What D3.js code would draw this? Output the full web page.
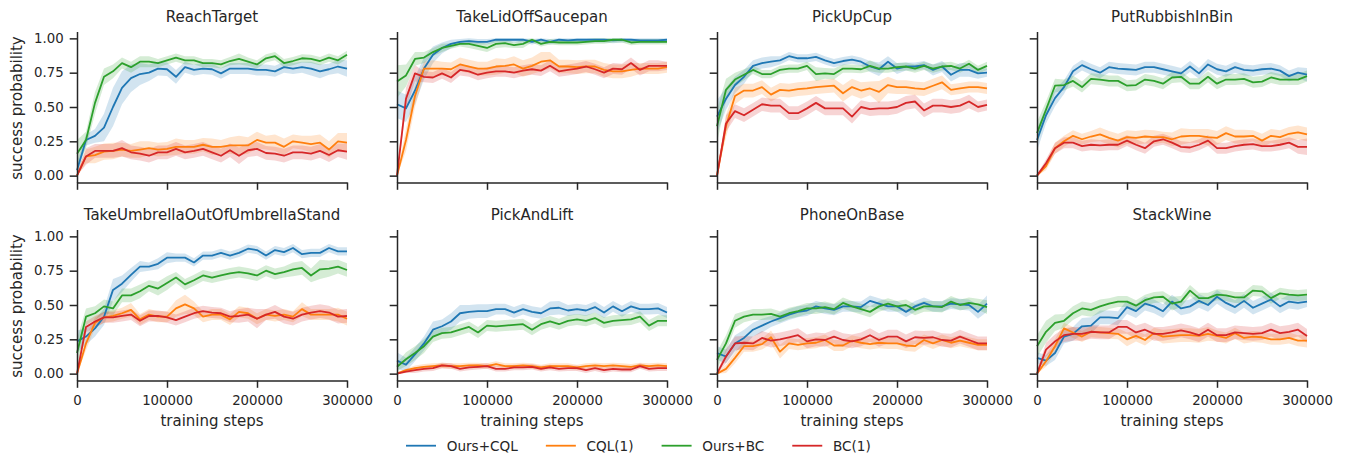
<!DOCTYPE html>
<html>
<head>
<meta charset="utf-8">
<script src="https://cdn.jsdelivr.net/npm/d3@7"></script>
<style>
	body { margin: 0; background: #fff; }
	text { font-family: "DejaVu Sans", sans-serif; }
</style>
</head>
<body>
<svg id="chart" width="1345" height="458"></svg>
<script>
// training step at which every evaluation was run
var steps = [0, 10000, 20000, 30000, 40000, 50000, 60000, 70000, 80000, 90000, 100000,
	110000, 120000, 130000, 140000, 150000, 160000, 170000, 180000, 190000, 200000,
	210000, 220000, 230000, 240000, 250000, 260000, 270000, 280000, 290000, 300000];

var methods = ["Ours+CQL", "CQL(1)", "Ours+BC", "BC(1)"];
var methodColors = ["#1f77b4", "#ff7f0e", "#2ca02c", "#d62728"];
var tasks = ["ReachTarget", "TakeLidOffSaucepan", "PickUpCup", "PutRubbishInBin",
	"TakeUmbrellaOutOfUmbrellaStand", "PickAndLift", "PhoneOnBase", "StackWine"];
var yTicks = [0, 0.25, 0.5, 0.75, 1];
var xTicks = [0, 100000, 200000, 300000];

// mean success rate, one row per method (same order as methods)
var reachTargetMean = [
	[0.04,0.26,0.29,0.35,0.50,0.64,0.71,0.74,0.75,0.78,0.775,0.72,0.79,0.77,0.78,0.775,0.745,0.78,0.78,0.78,0.77,0.77,0.76,0.79,0.78,0.79,0.78,0.76,0.775,0.795,0.78],
	[0,0.14,0.15,0.175,0.18,0.19,0.18,0.19,0.20,0.19,0.195,0.21,0.21,0.21,0.225,0.21,0.21,0.22,0.22,0.22,0.26,0.24,0.24,0.21,0.25,0.24,0.23,0.24,0.19,0.25,0.24],
	[0.16,0.26,0.53,0.72,0.76,0.82,0.79,0.83,0.83,0.82,0.84,0.86,0.84,0.84,0.82,0.82,0.81,0.835,0.85,0.83,0.81,0.855,0.87,0.82,0.835,0.855,0.85,0.835,0.86,0.84,0.88],
	[0,0.14,0.18,0.18,0.18,0.20,0.17,0.16,0.145,0.17,0.17,0.195,0.17,0.18,0.195,0.17,0.145,0.185,0.145,0.185,0.195,0.165,0.16,0.145,0.17,0.17,0.16,0.18,0.15,0.185,0.175]
];
var takeLidMean = [
	[0.52,0.49,0.62,0.78,0.88,0.93,0.96,0.975,0.98,0.975,0.975,0.99,0.99,0.99,0.99,0.975,0.99,0.975,0.99,0.985,0.99,0.99,0.99,0.99,0.985,0.99,0.99,0.985,0.985,0.985,0.99],
	[0,0.26,0.58,0.78,0.78,0.78,0.775,0.81,0.795,0.78,0.78,0.795,0.80,0.81,0.78,0.80,0.83,0.84,0.795,0.795,0.79,0.795,0.795,0.77,0.76,0.76,0.77,0.78,0.78,0.78,0.79],
	[0.685,0.73,0.85,0.86,0.90,0.93,0.945,0.96,0.96,0.945,0.93,0.96,0.965,0.95,0.96,0.99,0.96,0.975,0.97,0.97,0.97,0.975,0.98,0.98,0.99,0.99,0.97,0.975,0.975,0.975,0.975],
	[0,0.56,0.745,0.72,0.715,0.745,0.715,0.77,0.76,0.735,0.75,0.76,0.76,0.75,0.765,0.775,0.765,0.80,0.76,0.77,0.78,0.795,0.775,0.75,0.78,0.775,0.82,0.77,0.80,0.80,0.80]
];
var pickUpCupMean = [
	[0.43,0.56,0.66,0.72,0.80,0.82,0.83,0.84,0.87,0.855,0.855,0.865,0.84,0.82,0.835,0.845,0.83,0.795,0.775,0.83,0.78,0.795,0.795,0.805,0.77,0.795,0.735,0.77,0.77,0.745,0.75],
	[0,0.36,0.58,0.62,0.62,0.645,0.59,0.625,0.62,0.63,0.635,0.645,0.65,0.655,0.60,0.645,0.62,0.635,0.61,0.66,0.645,0.645,0.635,0.63,0.655,0.68,0.625,0.635,0.645,0.645,0.635],
	[0.36,0.625,0.70,0.735,0.77,0.74,0.74,0.77,0.78,0.78,0.80,0.74,0.745,0.74,0.78,0.78,0.775,0.80,0.78,0.78,0.79,0.795,0.78,0.80,0.78,0.795,0.80,0.78,0.815,0.77,0.80],
	[0,0.38,0.47,0.44,0.48,0.52,0.51,0.51,0.455,0.455,0.49,0.53,0.49,0.49,0.49,0.43,0.50,0.485,0.49,0.49,0.50,0.53,0.54,0.475,0.51,0.51,0.50,0.51,0.54,0.50,0.515]
];
var putRubbishMean = [
	[0.26,0.44,0.565,0.645,0.76,0.805,0.775,0.75,0.79,0.78,0.775,0.77,0.79,0.79,0.775,0.76,0.745,0.795,0.745,0.81,0.775,0.76,0.79,0.77,0.765,0.775,0.78,0.765,0.725,0.75,0.735],
	[0,0.07,0.20,0.25,0.29,0.265,0.285,0.30,0.275,0.255,0.28,0.275,0.285,0.28,0.28,0.265,0.285,0.29,0.29,0.28,0.275,0.31,0.285,0.285,0.29,0.255,0.29,0.28,0.305,0.315,0.30],
	[0.31,0.48,0.655,0.66,0.69,0.645,0.705,0.70,0.69,0.69,0.655,0.66,0.70,0.69,0.67,0.715,0.72,0.67,0.67,0.72,0.67,0.70,0.70,0.705,0.68,0.685,0.715,0.70,0.70,0.70,0.725],
	[0,0.09,0.20,0.24,0.24,0.215,0.225,0.22,0.225,0.225,0.255,0.225,0.20,0.25,0.265,0.24,0.21,0.205,0.225,0.255,0.20,0.20,0.215,0.225,0.23,0.215,0.215,0.225,0.24,0.21,0.21]
];
var takeUmbrellaMean = [
	[0.235,0.27,0.33,0.415,0.61,0.655,0.72,0.78,0.78,0.80,0.845,0.845,0.845,0.81,0.86,0.86,0.88,0.86,0.88,0.91,0.90,0.86,0.90,0.885,0.915,0.87,0.88,0.88,0.915,0.89,0.89],
	[0,0.22,0.37,0.41,0.42,0.44,0.465,0.395,0.43,0.415,0.415,0.475,0.505,0.475,0.415,0.43,0.43,0.395,0.45,0.44,0.40,0.43,0.42,0.43,0.415,0.47,0.43,0.43,0.43,0.43,0.40],
	[0.15,0.415,0.44,0.49,0.475,0.57,0.57,0.60,0.64,0.62,0.66,0.70,0.65,0.68,0.715,0.70,0.715,0.73,0.74,0.73,0.715,0.75,0.725,0.74,0.76,0.77,0.715,0.76,0.765,0.78,0.755],
	[0,0.34,0.38,0.41,0.41,0.42,0.43,0.385,0.42,0.42,0.41,0.39,0.415,0.44,0.455,0.445,0.44,0.415,0.42,0.43,0.40,0.43,0.45,0.415,0.40,0.43,0.445,0.455,0.445,0.415,0.42]
];
var pickAndLiftMean = [
	[0.095,0.065,0.14,0.22,0.32,0.345,0.38,0.44,0.45,0.455,0.455,0.47,0.47,0.445,0.47,0.45,0.44,0.475,0.48,0.46,0.47,0.46,0.485,0.445,0.49,0.455,0.49,0.47,0.47,0.475,0.445],
	[0,0.025,0.04,0.05,0.055,0.06,0.055,0.055,0.06,0.06,0.055,0.07,0.055,0.055,0.06,0.055,0.045,0.055,0.055,0.055,0.045,0.055,0.06,0.055,0.06,0.055,0.05,0.06,0.055,0.06,0.055],
	[0.05,0.105,0.15,0.20,0.27,0.295,0.30,0.32,0.34,0.30,0.35,0.345,0.35,0.355,0.36,0.32,0.36,0.38,0.36,0.385,0.395,0.385,0.405,0.37,0.385,0.39,0.395,0.415,0.35,0.385,0.385],
	[0,0.015,0.025,0.035,0.04,0.06,0.055,0.035,0.045,0.05,0.055,0.035,0.035,0.045,0.045,0.05,0.035,0.045,0.035,0.04,0.04,0.025,0.04,0.025,0.035,0.03,0.03,0.055,0.035,0.04,0.04]
];
var phoneOnBaseMean = [
	[0.15,0.125,0.22,0.26,0.32,0.35,0.38,0.405,0.43,0.45,0.46,0.49,0.475,0.465,0.49,0.49,0.485,0.53,0.51,0.49,0.49,0.45,0.49,0.515,0.49,0.49,0.51,0.505,0.50,0.45,0.51],
	[0,0.035,0.115,0.20,0.20,0.215,0.265,0.16,0.22,0.21,0.22,0.225,0.245,0.205,0.205,0.24,0.225,0.215,0.225,0.22,0.22,0.205,0.20,0.245,0.22,0.245,0.225,0.24,0.225,0.21,0.21],
	[0.10,0.22,0.385,0.415,0.43,0.43,0.435,0.415,0.44,0.455,0.475,0.475,0.485,0.47,0.515,0.49,0.47,0.45,0.49,0.51,0.49,0.50,0.465,0.49,0.49,0.485,0.525,0.50,0.515,0.505,0.485],
	[0,0.125,0.22,0.225,0.22,0.26,0.24,0.25,0.265,0.28,0.235,0.25,0.245,0.27,0.245,0.235,0.25,0.28,0.245,0.27,0.27,0.235,0.265,0.26,0.265,0.245,0.24,0.27,0.245,0.22,0.22]
];
var stackWineMean = [
	[0.115,0.095,0.15,0.27,0.29,0.345,0.35,0.41,0.41,0.405,0.485,0.455,0.51,0.49,0.455,0.525,0.475,0.49,0.53,0.50,0.56,0.515,0.485,0.53,0.48,0.51,0.54,0.49,0.525,0.515,0.525],
	[0,0.09,0.20,0.33,0.30,0.27,0.305,0.30,0.295,0.29,0.25,0.275,0.245,0.295,0.27,0.275,0.28,0.28,0.275,0.29,0.275,0.26,0.295,0.26,0.27,0.265,0.25,0.25,0.26,0.24,0.24],
	[0.20,0.305,0.37,0.385,0.44,0.475,0.465,0.49,0.51,0.525,0.525,0.495,0.535,0.555,0.56,0.51,0.525,0.605,0.55,0.55,0.575,0.57,0.555,0.555,0.605,0.60,0.55,0.585,0.575,0.57,0.575],
	[0,0.175,0.235,0.28,0.29,0.29,0.305,0.30,0.30,0.34,0.34,0.30,0.32,0.29,0.29,0.30,0.315,0.30,0.28,0.32,0.28,0.28,0.30,0.295,0.29,0.295,0.32,0.295,0.305,0.32,0.275]
];

// half-width of the shaded confidence band, in percentage points
var reachTargetCi = [
	[6,4,5,10,14,12,10,8,6,5,5,5,4,4,4,4,4,4,4,4,4,4,4,4,4,4,5,5,4,5,6],
	[2,5,6,6,6,5,5,6,5,5,5,6,5,5,5,6,5,6,7,6,6,5,6,6,5,5,6,6,6,6,7],
	[10,6,8,6,5,4,4,4,4,3,3,3,3,3,3,3,3,3,4,3,3,3,3,3,3,3,3,3,3,3,3],
	[2,6,5,5,5,6,5,5,5,5,5,5,5,5,5,5,5,5,6,5,5,5,5,5,5,5,5,5,5,5,6]
];
var takeLidCi = [
	[10,10,10,8,6,4,3,2,2,2,2,2,2,2,2,2,2,2,2,2,2,2,2,2,2,2,2,2,2,2,2],
	[2,8,8,5,6,5,5,5,5,5,5,6,5,6,6,6,7,6,5,5,5,5,5,5,5,5,5,4,4,4,4],
	[12,8,5,4,3,3,2,2,3,3,3,3,3,2,3,2,2,2,2,2,2,2,2,2,2,2,2,2,2,2,2],
	[2,8,6,4,4,4,4,4,4,4,4,4,4,4,4,4,4,4,4,4,4,4,4,4,4,4,4,4,4,4,3]
];
var pickUpCupCi = [
	[12,8,6,5,4,4,4,3,3,3,3,3,3,3,3,3,3,4,5,4,4,3,3,3,4,4,5,5,5,4,3],
	[2,8,6,5,5,5,5,5,5,5,5,5,5,5,6,6,6,5,8,6,5,5,5,5,5,5,4,4,4,4,4],
	[12,8,5,4,3,3,3,3,3,3,3,5,4,4,3,3,3,4,3,3,3,3,3,3,3,3,3,3,3,3,3],
	[2,6,5,5,5,5,5,5,5,5,5,5,5,5,5,5,5,5,5,5,5,5,5,5,5,5,5,5,5,4,4]
];
var putRubbishCi = [
	[8,6,6,5,4,4,4,4,4,4,4,4,4,4,4,4,4,4,4,4,4,4,4,4,4,4,4,4,4,4,5],
	[1,3,4,4,4,4,4,5,5,5,5,5,5,5,4,5,6,5,5,6,5,5,5,5,4,5,5,5,5,5,5],
	[8,6,5,4,4,4,4,4,4,4,4,4,4,4,4,4,4,4,4,4,4,4,4,4,4,4,4,4,4,4,4],
	[1,3,4,4,4,4,4,4,4,4,4,4,4,4,4,4,4,4,4,4,4,4,4,4,4,4,4,4,4,5,6]
];
var takeUmbrellaCi = [
	[8,6,6,6,8,6,5,4,3,4,4,3,3,3,3,3,3,3,3,3,3,3,3,3,3,3,3,3,3,3,3],
	[2,5,4,4,4,4,5,4,4,4,4,6,7,5,4,4,4,4,4,4,4,4,4,4,4,5,4,4,4,5,5],
	[10,6,5,5,5,5,5,5,4,5,5,4,4,4,4,4,4,4,4,4,4,4,4,4,5,5,5,7,6,5,5],
	[2,4,4,4,4,4,4,4,4,4,4,4,4,4,4,4,4,4,5,5,7,4,5,5,5,5,5,5,5,5,5]
];
var pickAndLiftCi = [
	[6,5,5,5,6,5,6,6,5,5,5,4,4,4,4,4,4,5,5,4,4,4,4,4,4,4,4,4,4,4,4],
	[1,1,2,2,2,2,2,2,2,2,2,2,2,2,2,2,2,2,2,2,2,2,2,2,2,2,2,2,2,2,2],
	[3,5,5,5,4,4,4,4,4,4,4,4,4,4,4,4,4,4,4,4,4,4,4,4,4,4,4,4,4,4,4],
	[1,1,2,2,2,2,2,2,2,2,2,2,2,2,2,2,2,2,2,2,2,2,2,2,2,2,2,2,2,2,2]
];
var phoneOnBaseCi = [
	[5,5,6,6,5,5,4,4,4,4,4,4,4,4,4,4,4,4,4,4,4,4,4,4,4,4,4,4,4,5,6],
	[1,3,4,4,4,4,5,5,4,4,4,4,4,4,4,4,4,4,4,4,4,4,4,4,4,4,4,4,4,4,4],
	[6,6,5,4,4,4,4,4,4,4,4,4,4,4,4,4,4,4,4,4,4,4,4,4,4,4,4,4,4,4,5],
	[1,5,5,5,5,5,5,5,5,5,5,5,5,5,5,5,5,5,5,5,5,5,5,5,5,5,5,5,5,5,5]
];
var stackWineCi = [
	[4,4,5,5,5,6,6,5,5,5,5,5,5,5,5,5,5,5,5,5,5,5,5,5,5,5,5,5,5,5,4],
	[2,4,5,4,4,4,4,4,4,4,5,4,4,4,5,5,5,5,5,5,4,4,4,4,4,4,4,4,4,4,5],
	[8,8,6,5,5,5,5,5,4,4,4,4,4,4,4,5,4,4,4,4,4,4,4,4,4,4,4,4,4,4,4],
	[2,5,5,5,5,5,5,5,5,5,5,5,5,5,5,5,5,5,5,5,5,5,5,5,5,5,5,5,5,5,5]
];

;(function(d3) {
	"use strict";

	var panelMeans = [reachTargetMean, takeLidMean, pickUpCupMean, putRubbishMean,
		takeUmbrellaMean, pickAndLiftMean, phoneOnBaseMean, stackWineMean];
	var panelCis = [reachTargetCi, takeLidCi, pickUpCupCi, putRubbishCi,
		takeUmbrellaCi, pickAndLiftCi, phoneOnBaseCi, stackWineCi];

	var ink = "#262626";
	var colLeft = [77, 397, 717, 1037],
		rowTop = [31.5, 229.5],
		plotW = 270,
		plotH = 151;

	var svg = d3.select("#chart");

	var x = d3.scaleLinear().domain([0, 300000]).range([0, plotW]);
	var y = d3.scaleLinear().domain([-0.05, 1.05]).range([plotH, 0]);

	var line = d3.line()
		.x(function(d) { return x(d.step); })
		.y(function(d) { return y(d.mean); });

	var band = d3.area()
		.x(function(d) { return x(d.step); })
		.y0(function(d) { return y(Math.max(0, d.mean - d.ci / 100)); })
		.y1(function(d) { return y(Math.min(1, d.mean + d.ci / 100)); });

	function styleAxis(ax) {
		ax.attr("font-family", null).attr("font-size", null);
		ax.select(".domain").attr("stroke", ink).attr("stroke-width", 1.5);
		ax.selectAll(".tick line").attr("stroke", ink).attr("stroke-width", 1.5);
		ax.selectAll(".tick text").attr("fill", ink).style("font-size", "13.3px");
	}

	tasks.forEach(function(task, p) {
		var row = Math.floor(p / 4), col = p % 4;
		var g = svg.append("g")
			.attr("transform", "translate(" + colLeft[col] + "," + rowTop[row] + ")");

		var series = methods.map(function(m, k) {
			return steps.map(function(s, i) {
				return { step: s, mean: panelMeans[p][k][i], ci: panelCis[p][k][i] };
			});
		});

		// bands sit under every line, as in seaborn
		g.selectAll(".band").data(series).enter().append("path")
			.attr("class", "band")
			.attr("d", band)
			.attr("fill", function(d, k) { return methodColors[k]; })
			.attr("fill-opacity", 0.2);

		g.selectAll(".line").data(series).enter().append("path")
			.attr("class", "line")
			.attr("d", line)
			.attr("fill", "none")
			.attr("stroke", function(d, k) { return methodColors[k]; })
			.attr("stroke-width", 1.8)
			.attr("stroke-linejoin", "round");

		var yAxis = d3.axisLeft(y).tickValues(yTicks).tickSize(7.3).tickPadding(6).tickSizeOuter(0)
			.tickFormat(col === 0 ? d3.format(".2f") : function() { return ""; });
		styleAxis(g.append("g").call(yAxis));

		var xAxis = d3.axisBottom(x).tickValues(xTicks).tickSize(7.3).tickSizeOuter(0)
			.tickFormat(row === 1 ? d3.format("d") : function() { return ""; });
		var gx = g.append("g").attr("transform", "translate(0," + plotH + ")").call(xAxis);
		styleAxis(gx);
		gx.selectAll(".tick text").attr("y", 15);

		g.append("text")
			.attr("x", plotW / 2).attr("y", -9.5)
			.attr("text-anchor", "middle")
			.attr("fill", ink).style("font-size", "15px")
			.text(task);

		if (row === 1) {
			g.append("text")
				.attr("x", plotW / 2).attr("y", plotH + 45.5)
				.attr("text-anchor", "middle")
				.attr("fill", ink).style("font-size", "15px")
				.text("training steps");
		}
		if (col === 0) {
			g.append("text")
				.attr("transform", "translate(" + (22 - colLeft[0]) + "," + (plotH / 2 + 1) + ") rotate(-90)")
				.attr("text-anchor", "middle")
				.attr("fill", ink).style("font-size", "15px")
				.text("success probability");
		}
	});

	// legend laid out along one row under the grid
	var legend = svg.append("g").attr("transform", "translate(0,445.7)");
	var lx = 406;
	methods.forEach(function(m, k) {
		legend.append("line")
			.attr("x1", lx).attr("x2", lx + 30)
			.attr("stroke", methodColors[k]).attr("stroke-width", 1.8);
		var t = legend.append("text")
			.attr("x", lx + 40.7).attr("y", 5)
			.attr("fill", ink).style("font-size", "13.6px")
			.text(m);
		lx += 40.7 + t.node().getComputedTextLength() + 28;
	});
})(d3);
</script>
</body>
</html>
